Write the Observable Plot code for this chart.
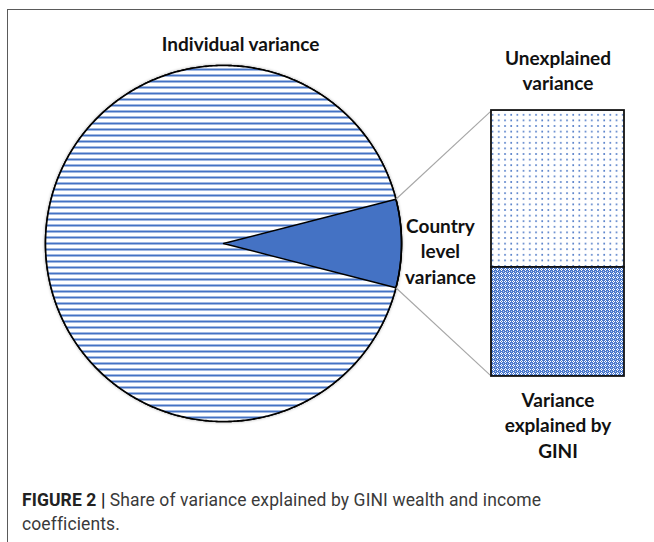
<!DOCTYPE html>
<html><head><meta charset="utf-8">
<script src="https://cdn.jsdelivr.net/npm/d3@7"></script>
<script src="https://cdn.jsdelivr.net/npm/@observablehq/plot@0.6"></script>
<style>
html,body{margin:0;padding:0;background:#fff;}
#wrap{position:relative;width:654px;height:542px;overflow:hidden;background:#fff;}
#chart{position:absolute;left:0;top:0;}
#frame{position:absolute;left:7px;top:9px;right:-4px;bottom:-4px;border-left:1.5px solid #5a5a5a;border-top:1.5px solid #5a5a5a;pointer-events:none;}
#caption{position:absolute;left:22px;top:489px;width:630px;font-family:Roboto,"Liberation Sans",sans-serif;font-size:17.5px;letter-spacing:0.1px;line-height:23.5px;color:#3a3a3a;}
#caption b{color:#222;}
</style></head><body>
<div id="wrap"><div id="chart"></div><div id="frame"></div>
<div id="caption"><b>FIGURE 2 |</b> Share of variance explained by GINI wealth and income<br>coefficients.</div></div>
<script>
// ---- data ----
const pieCategories = ["Individual variance", "Country level variance"];
const pieShares = [92, 8];
const barCategories = ["Unexplained variance", "Variance explained by GINI"];
const barShares = [59, 41];
const pieLabels = ["Individual variance", "Country\nlevel\nvariance"];
const barLabels = ["Unexplained\nvariance", "Variance\nexplained by\nGINI"];

// ---- layout (pixels) ----
const W = 654, H = 470;
const R = 178, CX = 223, CY = 243;     // pie centre & radius
const BAR_X1 = 1.5056, BAR_X2 = 2.2528; // bar edges in pie-radius units
const BAR_HALF = 0.747;                  // half height of bar in pie-radius units
const BLUE = "#4472C4";

// pie geometry from data
const total = d3.sum(pieShares);
const half = Math.PI * pieShares[1] / total;
const arcs = d3.pie().sort(null)
  .startAngle(Math.PI / 2 + half - 2 * Math.PI)
  .endAngle(Math.PI / 2 + half)(pieShares);

function slicePoints(a, i) {
  const n = Math.max(4, Math.ceil((a.endAngle - a.startAngle) / 0.01));
  const pts = [{k: pieCategories[i], u: 0, v: 0}];
  for (let j = 0; j <= n; j++) {
    const t = a.startAngle + (a.endAngle - a.startAngle) * j / n;
    pts.push({k: pieCategories[i], u: Math.sin(t), v: -Math.cos(t)});
  }
  return pts;
}
const indivPts = slicePoints(arcs[0], 0);
const countryPts = slicePoints(arcs[1], 1);
const rimPts = [...indivPts.slice(1), ...countryPts.slice(1)];

// bar geometry from data
const barTotal = d3.sum(barShares);
let cum = 0;
const barData = barShares.map((s, i) => {
  const v1 = -BAR_HALF + (cum / barTotal) * 2 * BAR_HALF;
  cum += s;
  const v2 = -BAR_HALF + (cum / barTotal) * 2 * BAR_HALF;
  return {k: barCategories[i], share: s, v1, v2};
});

const cA = arcs[1];
const links = [
  {u1: Math.sin(cA.startAngle), v1: -Math.cos(cA.startAngle), u2: BAR_X1, v2: barData[0].v1},
  {u1: Math.sin(cA.endAngle), v1: -Math.cos(cA.endAngle), u2: BAR_X1, v2: barData[1].v2}
];

const defs = () => {
  const ns = "http://www.w3.org/2000/svg";
  const g = document.createElementNS(ns, "g");
  g.innerHTML = `<defs>
    <pattern id="hlines" patternUnits="userSpaceOnUse" width="8" height="6">
      <rect width="8" height="6" fill="#fff"/>
      <rect y="2" width="8" height="2" fill="${BLUE}"/>
    </pattern>
    <pattern id="dots" patternUnits="userSpaceOnUse" width="6.2" height="5.6">
      <rect width="6.2" height="5.6" fill="#fff"/>
      <rect x="2" y="2" width="1.6" height="1.6" fill="${BLUE}"/>
    </pattern>
    <pattern id="cross" patternUnits="userSpaceOnUse" width="4" height="4">
      <rect width="4" height="4" fill="#4a78cc"/>
      <rect x="1" y="0" width="1" height="1" fill="#fff"/>
      <rect x="0" y="1" width="1" height="1" fill="#fff"/>
      <rect x="2" y="1" width="1" height="1" fill="#fff"/>
      <rect x="1" y="2" width="1" height="1" fill="#fff"/>
      <rect x="3" y="3" width="1" height="1" fill="#b7c9ee"/>
    </pattern>
    <filter id="shadow" x="-10%" y="-10%" width="120%" height="120%">
      <feDropShadow dx="0" dy="0" stdDeviation="1.6" flood-color="#000" flood-opacity="0.35"/>
    </filter>
  </defs>`;
  return g;
};

const font = {fontFamily: "Lato, 'Open Sans', sans-serif", fontWeight: "bold", fontSize: 19, fill: "#111", lineHeight: 1.32};

const chart = Plot.plot({
  width: W, height: H, margin: 0,
  x: {domain: [-CX / R, (W - CX) / R], range: [0, W], axis: null},
  y: {domain: [-CY / R, (H - CY) / R], range: [0, H], axis: null},
  style: {background: "transparent"},
  marks: [
    defs,
    Plot.line(rimPts, {x: "u", y: "v", fill: "#fff", stroke: "#000", strokeWidth: 1.6, curve: "linear-closed", className: "rim"}),
    Plot.line(indivPts, {x: "u", y: "v", fill: "url(#hlines)", stroke: "none", curve: "linear-closed"}),
    Plot.line(countryPts, {x: "u", y: "v", fill: BLUE, stroke: "#000", strokeWidth: 1.4, curve: "linear-closed"}),
    Plot.line(rimPts, {x: "u", y: "v", fill: "none", stroke: "#000", strokeWidth: 1.6, curve: "linear-closed"}),
    Plot.link(links, {x1: "u1", y1: "v1", x2: "u2", y2: "v2", stroke: "#a6a6a6", strokeWidth: 1.1}),
    Plot.rect(barData.filter((d, i) => i === 0), {x1: BAR_X1, x2: BAR_X2, y1: "v1", y2: "v2", fill: "url(#dots)", stroke: "#111", strokeWidth: 1.8}),
    Plot.rect(barData.filter((d, i) => i === 1), {x1: BAR_X1, x2: BAR_X2, y1: "v1", y2: "v2", fill: "url(#cross)", stroke: "#111", strokeWidth: 1.8}),
    Plot.text([pieLabels[0]], {x: 0.096, y: -1.129, text: d => d, ...font}),
    Plot.text([pieLabels[1]], {x: 1.219, y: 0.039, text: d => d, ...font}),
    Plot.text([barLabels[0]], {x: (BAR_X1 + BAR_X2) / 2, y: barData[0].v1, dy: -41.5, text: d => d, ...font}),
    Plot.text([barLabels[1]], {x: (BAR_X1 + BAR_X2) / 2, y: barData[1].v2, dy: 48, text: d => d, ...font})
  ]
});
d3.select(chart).selectAll(".rim path").attr("filter", "url(#shadow)");
document.getElementById("chart").appendChild(chart);
</script>
</body></html>
